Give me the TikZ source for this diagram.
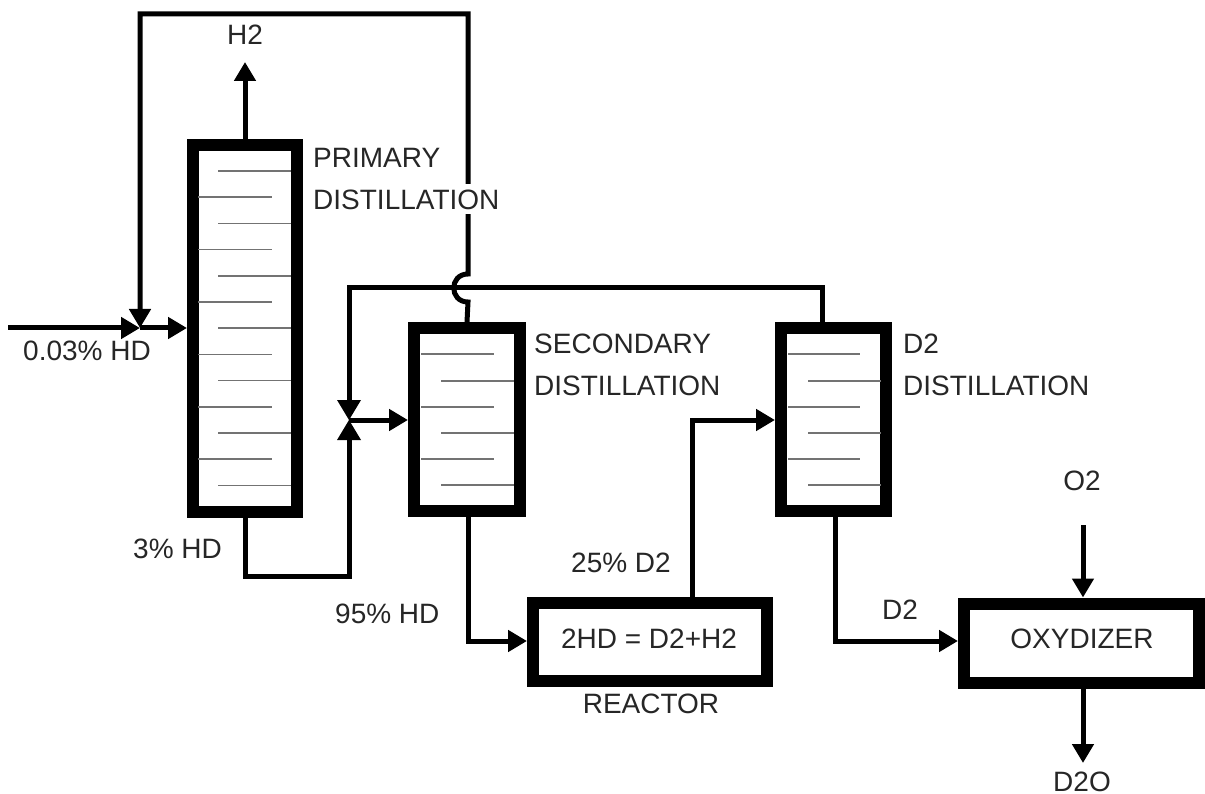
\documentclass[tikz,border=0pt]{standalone}
\usepackage{fontspec}
\setmainfont{Liberation Sans}
\usetikzlibrary{arrows.meta}
\begin{document}
\begin{tikzpicture}[x=1pt,y=-1pt,
  unit/.style={draw=black,line width=12pt,inner sep=0pt,minimum width=#1},
  conn/.style={draw=black,line width=5pt},
  arr/.style={conn,-{Triangle[length=19pt,width=21pt]}},
  tray/.style={draw=black!55,line width=1.6pt},
  lbl/.style={font=\fontsize{28}{34}\selectfont,text=black!85,inner sep=0pt}
]
\useasboundingbox (0,0) rectangle (1205,794);
% units
\node[unit=104pt,minimum height=367pt] (primary) at (245,328.5) {};
\node[unit=106pt,minimum height=183pt] (secondary) at (467,419.5) {};
\node[unit=105pt,minimum height=183pt] (dtwo) at (833.5,419.5) {};
\node[unit=234pt,minimum height=78pt] (reactor) at (650,642) {};
\node[unit=235pt,minimum height=79pt] (oxid) at (1081.5,643) {};
% trays
\foreach \y in {171,223.4,275.8,328.2,380.6,433,485.4}
  \draw[tray] (218,\y) -- (291,\y);
\foreach \y in {197.2,249.6,302,354.4,406.8,459.2}
  \draw[tray] (198,\y) -- (272,\y);
\foreach \y in {354,407,459} {
  \draw[tray] (421,\y) -- (494,\y);
  \draw[tray] (788,\y) -- (860,\y);
}
\foreach \y in {381,433,485} {
  \draw[tray] (441,\y) -- (514,\y);
  \draw[tray] (808,\y) -- (881,\y);
}
% free-end coordinates
\coordinate (feedin) at (8,328);
\coordinate (mix) at (140,328);
\coordinate (htwo) at (245,62);
\coordinate (valve) at (349,420);
\coordinate (otwo) at (1083,525);
\coordinate (dtwoo) at (1083,763);
% valve
\fill (337,400) -- (361,400) -- (valve) -- cycle;
\fill (337,440) -- (361,440) -- (valve) -- cycle;
\coordinate (valvetop) at (349,400);
\coordinate (valvebot) at (349,440);
% connectors
\draw[arr] (feedin) -- (mix);
\draw[arr] (mix) -- (primary.west |- mix);
\draw[arr] (primary.north) -- (htwo);
\draw[arr] (secondary.north) -- (468,302) .. controls (449,302) and (449,274) .. (468,274) -- (468,14) -- (140,14) -- (mix);
\draw[conn] (dtwo.north -| 822,0) -- (822,288) -- (349,288) -- (valvetop);
\draw[conn] (primary.south) -- (245,576) -- (349,576) -- (valvebot);
\draw[arr] (valve) -- (secondary.west |- valve);
\draw[arr] (secondary.south -| 468,0) -- (468,641) -- (reactor.west |- 0,641);
\draw[arr] (reactor.north -| 692,0) -- (692,420) -- (dtwo.west |- 0,420);
\draw[arr] (dtwo.south -| 835,0) -- (835,641) -- (oxid.west |- 0,641);
\draw[arr] (otwo) -- (oxid.north -| otwo);
\draw[arr] (oxid.south -| dtwoo) -- (dtwoo);
% labels
\node[lbl,anchor=base] (lh2) at (245,45) {H2};
\node[lbl,anchor=base west] (lp1) at (313,168) {PRIMARY};
\fill[white] (455,184) rectangle (482,214);
\node[lbl,anchor=base west] (lp2) at (313,210) {DISTILLATION};
\node[lbl,anchor=base west] (ls1) at (534,353) {SECONDARY};
\node[lbl,anchor=base west] (ls2) at (534,395) {DISTILLATION};
\node[lbl,anchor=base west] (ld1) at (903,353) {D2};
\node[lbl,anchor=base west] (ld2) at (903,395) {DISTILLATION};
\node[lbl,anchor=base west] (lfeed) at (23,360) {0.03\% HD};
\node[lbl,anchor=base west] (l3) at (133,558) {3\% HD};
\node[lbl,anchor=base west] (l95) at (335,623) {95\% HD};
\node[lbl,anchor=base west] (l25) at (571,572) {25\% D2};
\node[lbl,anchor=base west] (ld2b) at (882,619) {D2};
\node[lbl,anchor=base] (lrx) at (649,648) {2HD = D2+H2};
\node[lbl,anchor=base] (lreactor) at (651,713) {REACTOR};
\node[lbl,anchor=base] (lox) at (1082,648) {OXYDIZER};
\node[lbl,anchor=base] (lo2) at (1082,490) {O2};
\node[lbl,anchor=base] (ld2o) at (1082,791) {D2O};
\end{tikzpicture}
\end{document}
